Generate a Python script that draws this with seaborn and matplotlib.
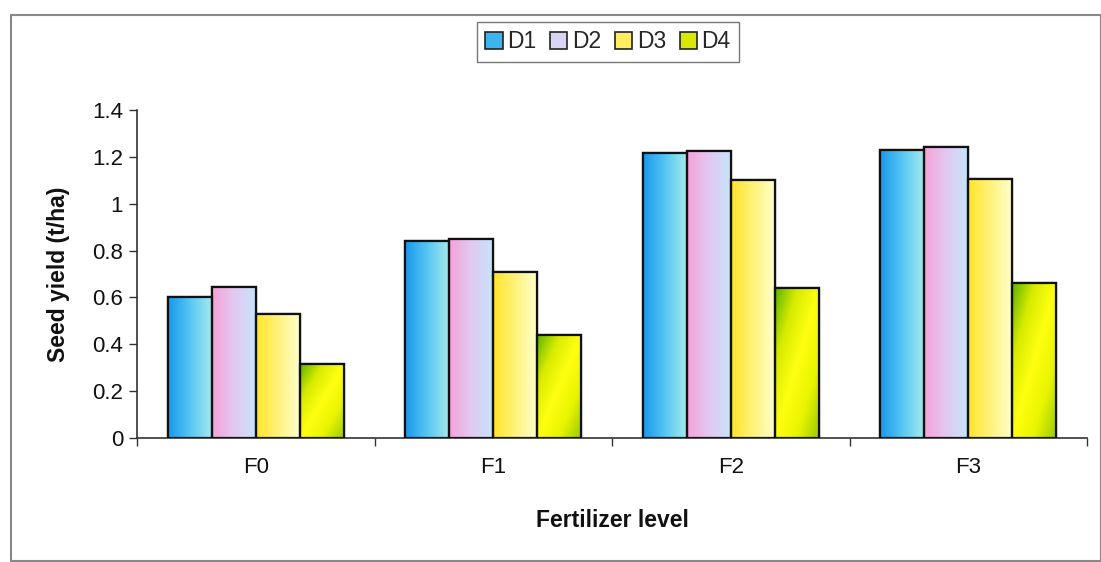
import numpy as np
import pandas as pd
import matplotlib
matplotlib.use("Agg")
import matplotlib.pyplot as plt
import seaborn as sns
from matplotlib.colors import LinearSegmentedColormap
from matplotlib.patches import Patch, Rectangle
from matplotlib.ticker import FixedLocator

categories = ["F0", "F1", "F2", "F3"]
series_names = ["D1", "D2", "D3", "D4"]
d1 = [0.60, 0.84, 1.215, 1.23]
d2 = [0.645, 0.85, 1.225, 1.24]
d3 = [0.53, 0.71, 1.10, 1.105]
d4 = [0.315, 0.44, 0.64, 0.66]
y_ticks = [0, 0.2, 0.4, 0.6, 0.8, 1, 1.2, 1.4]
y_tick_labels = ["0", "0.2", "0.4", "0.6", "0.8", "1", "1.2", "1.4"]

rows = []
for name, vals in zip(series_names, [d1, d2, d3, d4]):
    for c, v in zip(categories, vals):
        rows.append({"level": c, "series": name, "yield": v})
df = pd.DataFrame(rows)

sns.set_theme(style="white")
plt.rcParams["font.family"] = ["Liberation Sans", "DejaVu Sans"]

gradients = {
    "D1": ["#1a98ec", "#55c6f2", "#a4e8ee"],
    "D2": ["#f6a2d8", "#e2c8f0", "#c6e4fb"],
    "D3": ["#ffe52a", "#fff27a", "#ffffcc"],
    "D4": ["#5cb400", "#d6ea00", "#ffff10", "#e8f400", "#9ccc00"],
}
solid = {"D1": "#3cb4f0", "D2": "#d8d4f4", "D3": "#ffee60", "D4": "#d8e800"}

fig = plt.figure(figsize=(11.01, 5.62), dpi=100)
ax = fig.add_axes([137 / 1101, 1 - 438 / 562, (1087 - 137) / 1101, (438 - 110) / 562])

sns.barplot(data=df, x="level", y="yield", hue="series", order=categories,
            hue_order=series_names, palette=solid, width=0.74, gap=0,
            edgecolor="#111111", linewidth=1.6, legend=False, ax=ax, zorder=3)

# gradient fills clipped to each bar
for cont, name in zip(ax.containers, series_names):
    cmap = LinearSegmentedColormap.from_list(name, gradients[name])
    for bar in cont:
        x0, y0 = bar.get_x(), bar.get_y()
        w, h = bar.get_width(), bar.get_height()
        if name == "D4":
            # rows go top -> bottom (origin upper); diagonal from top-left
            gx, gy = np.meshgrid(np.linspace(0, 1, 64), np.linspace(0, 1, 64))
            grad = np.clip(0.5 * gx + 0.5 * gy, 0, 1)
        else:
            grad = np.tile(np.linspace(0, 1, 64), (64, 1))
        im = ax.imshow(grad, cmap=cmap, extent=[x0, x0 + w, y0, y0 + h],
                       aspect="auto", origin="upper", zorder=3.5, interpolation="bicubic")
        im.set_clip_path(bar)
        border = Rectangle((x0, y0), w, h, fill=False, edgecolor="#111111",
                           linewidth=1.6, zorder=4)
        ax.add_patch(border)

ax.set_xlim(-0.5, len(categories) - 0.5)
ax.set_ylim(0, 1.4)
ax.set_yticks(y_ticks)
ax.set_yticklabels(y_tick_labels)
ax.xaxis.set_minor_locator(FixedLocator([i + 0.5 for i in range(-1, len(categories))]))
ax.tick_params(axis="x", which="major", length=0, labelsize=16, pad=14, colors="#111111")
ax.tick_params(axis="x", which="minor", length=6, width=1, color="#333333", direction="out", bottom=True)
ax.tick_params(axis="y", length=6, width=1, color="#333333", direction="out", left=True,
               labelsize=16, pad=4, colors="#111111")
for s in ["top", "right"]:
    ax.spines[s].set_visible(False)
for s in ["left", "bottom"]:
    ax.spines[s].set_color("#333333")
    ax.spines[s].set_linewidth(1.2)
ax.set_xlabel("Fertilizer level", fontsize=16.5, fontweight="bold", labelpad=22, color="#111111")
ax.set_ylabel("Seed yield (t/ha)", fontsize=16.5, fontweight="bold", labelpad=16, color="#111111")

handles = [Patch(facecolor=solid[n], edgecolor="#222222", linewidth=1.2) for n in series_names]
fig.legend(handles, series_names, loc="center", bbox_to_anchor=(608 / 1101, 1 - 42 / 562),
           ncol=4, frameon=True, fancybox=False, edgecolor="#555555", fontsize=16.5,
           handlelength=0.75, handleheight=0.75, handletextpad=0.2, columnspacing=0.6,
           borderpad=0.35)

fig.add_artist(Rectangle((11 / 1101, 1 / 562), 1 - 11 / 1101, 1 - 16 / 562, transform=fig.transFigure,
                         fill=False, edgecolor="#888888", linewidth=1.5))

fig.savefig("out.png", dpi=100, facecolor="white")
